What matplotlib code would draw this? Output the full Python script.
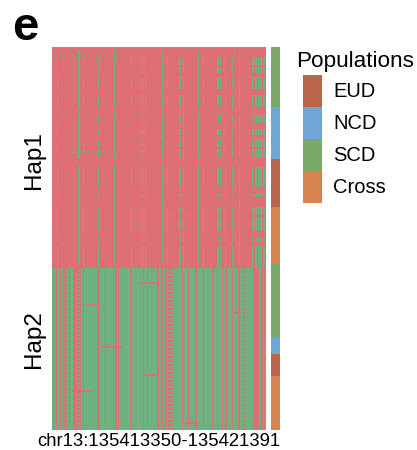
import matplotlib
matplotlib.use("Agg")
import matplotlib.pyplot as plt
import numpy as np
from matplotlib.colors import ListedColormap
from matplotlib.patches import Patch

plt.rcParams['font.family'] = ['Liberation Sans', 'DejaVu Sans']

# ---- data ----
n_snps = 214
hap1_rows = 108
hap2_rows = 83

# populations of the haplotypes, top to bottom, as run lengths
hap1_pops = ['SCD', 'NCD', 'EUD', 'Cross']
hap1_counts = [30, 26, 24, 28]
hap2_pops = ['SCD', 'NCD', 'EUD', 'Cross']
hap2_counts = [37, 8, 11, 27]

# Hap1: SNPs carrying the alternative allele in (nearly) all haplotypes
hap1_solid = [26, 27, 62, 110, 146, 187]
hap1_gap_rows = [(0, 2), (31, 33), (56, 59)]
# Hap1: SNPs carrying the alternative allele only in some row blocks
hap1_band = [5, 31, 46, 79, 89, 91, 93, 115, 127, 128, 131, 151, 165, 166,
             168, 173, 180, 200, 201, 203, 204, 206, 208, 209, 211, 212]
hap1_band_rows = [(5, 9), (10, 13), (15, 21), (24, 30), (34, 38), (41, 44),
                  (46, 50), (51, 55), (60, 70), (73, 75), (80, 84), (85, 92),
                  (95, 97), (99, 108)]
hap1_dashes = [(4, 0, 70), (52, 20, 60), (83, 115, 140)]

# Hap2: SNPs carrying the reference allele
hap2_solid = [1, 4, 8, 11, 12, 13, 17, 21, 22, 23, 24, 25, 28, 31, 45, 46, 47,
              53, 61, 63, 64, 66, 78, 79, 91, 95, 105, 106, 110, 113, 114,
              130, 136, 143, 144, 151, 160, 161, 165, 170, 173, 174, 180,
              186, 187, 191, 201, 202, 203, 204, 205, 206, 209, 210, 212]
hap2_faint = [14, 15, 26, 27, 116, 117, 118, 119, 120, 192, 193]
hap2_top_rows = 2
hap2_dashes = [(9, 88, 105), (20, 33, 48), (24, 180, 190), (41, 50, 70),
               (55, 91, 103), (63, 20, 40), (79, 133, 146)]

pop_colors = {'EUD': '#B8654B', 'NCD': '#6FA6D6', 'SCD': '#7AA868', 'Cross': '#D6834F'}
legend_order = ['EUD', 'NCD', 'SCD', 'Cross']

# ---- build the genotype matrix ----
h1 = np.zeros((hap1_rows, n_snps), dtype=int)
for c in hap1_solid:
    h1[:, c] = 1
    for a, b in hap1_gap_rows:
        h1[a:b, c] = 0
for a, b in hap1_band_rows:
    for c in hap1_band:
        h1[a:b, c] = 1
for r, a, b in hap1_dashes:
    h1[r, a:b:4] = 1

h2 = np.ones((hap2_rows, n_snps), dtype=int)
for c in hap2_solid:
    h2[:, c] = 0
for c in hap2_faint:
    h2[::2, c] = 0
for r, a, b in hap2_dashes:
    h2[r, a:b] = 0
h2[:hap2_top_rows, :] = 0
for c in hap1_band:
    h2[:hap2_top_rows, c] = 1

geno = np.vstack([h1, h2])

pops = []
for p, n in zip(hap1_pops + hap2_pops, hap1_counts + hap2_counts):
    pops += [p] * n
pop_idx = np.array([legend_order.index(p) for p in pops])[:, None]

# ---- figure ----
fig = plt.figure(figsize=(4.17, 4.5), dpi=100)
ax = fig.add_axes([52 / 417, 20 / 450, 214 / 417, 383 / 450])
ax.imshow(geno, aspect='auto', interpolation='nearest',
          cmap=ListedColormap(['#DE7075', '#6EB282']))
ax.set_xticks([])
ax.set_yticks([56, 145])
ax.set_yticklabels(['Hap1', 'Hap2'], rotation=90, va='center', fontsize=17.5)
ax.tick_params(axis='y', length=0, pad=5)
ax.set_xlabel('chr13:135413350-135421391', fontsize=13.3, labelpad=2)
for s in ax.spines.values():
    s.set_visible(False)

ax2 = fig.add_axes([271 / 417, 20 / 450, 9 / 417, 383 / 450])
ax2.imshow(pop_idx, aspect='auto', interpolation='nearest',
           cmap=ListedColormap([pop_colors[p] for p in legend_order]), vmin=0, vmax=3)
ax2.axis('off')

fig.text(296 / 417, 1 - 67 / 450, 'Populations', fontsize=16.2, va='baseline')
handles = [Patch(facecolor=pop_colors[p], edgecolor='none', label=p) for p in legend_order]
leg = fig.legend(handles=handles, loc='upper left',
                 bbox_to_anchor=(303 / 417, 1 - 75 / 450), frameon=False,
                 fontsize=14.5, handlelength=0.95,
                 handleheight=2.07, labelspacing=0, handletextpad=0.55,
                 borderpad=0, borderaxespad=0)

fig.text(12 / 417, 1 - 40 / 450, 'e', fontsize=34, fontweight='bold')

fig.savefig('out.png', dpi=100)
